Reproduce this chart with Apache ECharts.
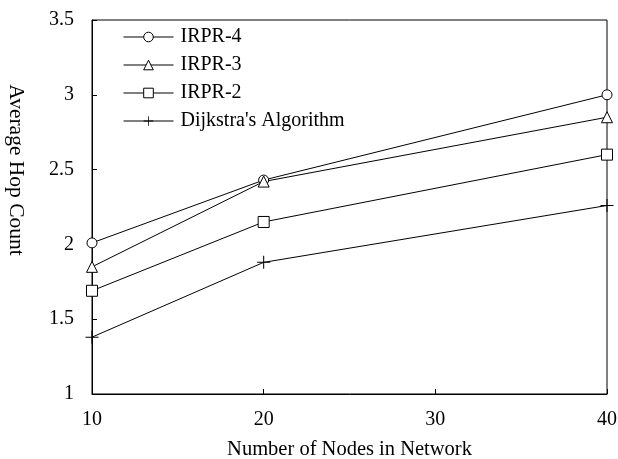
<!DOCTYPE html>
<html>
<head>
<meta charset="utf-8">
<script src="https://cdn.jsdelivr.net/npm/echarts@6/dist/echarts.min.js"></script>
<style>html,body{margin:0;padding:0;background:#fff}#c{width:618px;height:459px}</style>
</head>
<body>
<div id="c"></div>
<script>
var xValues = [10, 20, 40];
var irpr4 = [2.01, 2.43, 3.0];
var irpr3 = [1.85, 2.42, 2.85];
var irpr2 = [1.69, 2.15, 2.6];
var dijkstra = [1.38, 1.88, 2.26];
var seriesNames = ['IRPR-4', 'IRPR-3', 'IRPR-2', "Dijkstra's Algorithm"];

var FONT = 'Liberation Serif';
function pairs(vals) { return xValues.map(function (x, i) { return [x, vals[i]]; }); }
var plusPath = 'path://M4.6,0h0.8v10h-0.8zM0,4.6h10v0.8h-10z';
var symbols = ['circle', 'triangle', 'rect', plusPath];
var sizes = [10, 11, 11, 13];
var datasets = [irpr4, irpr3, irpr2, dijkstra];

var series = datasets.map(function (d, i) {
  var isPlus = i === 3;
  return {
    name: seriesNames[i],
    type: 'line',
    data: pairs(d),
    symbol: symbols[i],
    symbolSize: sizes[i],
    showAllSymbol: true,
    lineStyle: { color: '#000', width: 1 },
    itemStyle: isPlus ? { color: '#000', borderWidth: 0 } : { color: '#fff', borderColor: '#000', borderWidth: 1 },
    emphasis: { disabled: true },
    animation: false
  };
});

var chart = echarts.init(document.getElementById('c'), null, { renderer: 'canvas' });
chart.setOption({
  backgroundColor: '#fff',
  animation: false,
  grid: { left: 92, top: 20, right: 11, bottom: 65, containLabel: false, outerBoundsMode: 'none', show: true, borderColor: '#000', borderWidth: 1, backgroundColor: 'transparent' },
  legend: {
    data: seriesNames,
    orient: 'vertical',
    left: 123,
    top: 27,
    padding: 0,
    itemWidth: 50,
    itemHeight: 12,
    itemGap: 8,
    lineStyle: { width: 1 },
    itemStyle: { borderWidth: 1 },
    textStyle: { fontFamily: FONT, fontSize: 20, color: '#000', padding: [0, 0, 0, 2] },
    inactiveColor: '#000'
  },
  xAxis: {
    type: 'value',
    min: 10, max: 40, interval: 10,
    name: 'Number of Nodes in Network',
    nameLocation: 'middle',
    nameGap: 45,
    nameTextStyle: { fontFamily: FONT, fontSize: 20.5, color: '#000' },
    axisLine: { show: true, lineStyle: { color: '#000', width: 1 } },
    axisTick: { show: true, inside: true, length: 5, lineStyle: { color: '#000' } },
    axisLabel: { fontFamily: FONT, fontSize: 20, color: '#000', margin: 16 },
    splitLine: { show: false }
  },
  yAxis: {
    type: 'value',
    min: 1, max: 3.5, interval: 0.5,
    name: 'Average Hop Count',
    nameLocation: 'middle',
    nameGap: 65,
    nameRotate: -90,
    nameTextStyle: { fontFamily: FONT, fontSize: 21.5, color: '#000', padding: [0, 74, 0, 0] },
    axisLine: { show: true, lineStyle: { color: '#000', width: 1 } },
    axisTick: { show: true, inside: true, length: 5, lineStyle: { color: '#000' } },
    axisLabel: { fontFamily: FONT, fontSize: 20, color: '#000', margin: 18 },
    splitLine: { show: false }
  },
  series: series
});
</script>
</body>
</html>
